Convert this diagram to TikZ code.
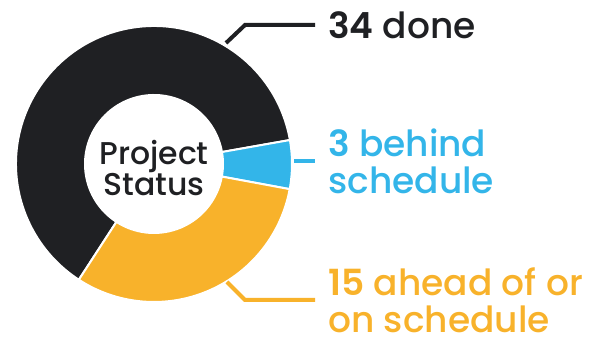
\documentclass[tikz,border=0pt]{standalone}
\usepackage{fontspec}
\setmainfont{Poppins}[UprightFont=* Medium, BoldFont=* SemiBold]
\usetikzlibrary{positioning, calc}
\definecolor{donecol}{HTML}{1F2023}
\definecolor{behindcol}{HTML}{33B5E9}
\definecolor{aheadcol}{HTML}{F8B22B}
\tikzset{
x=1pt, y=1pt, % one unit is one pixel of the layout
slice/.style={draw=white, line width=2pt, line join=round}, % ring pieces with white gaps
leader/.style={line width=4pt}, % the lines out to the labels
lbl/.style={inner sep=0pt, align=left, font=\fontsize{36}{37}\selectfont}, % the label text
}
% colour, start angle, end angle
\newcommand{\ringpiece}[3]{%
  \filldraw[slice, fill=#1] (154,175) ++(#2:138) arc[start angle=#2, end angle=#3, radius=138]
    -- ($(154,175)+(#3:69)$) arc[start angle=#3, end angle=#2, radius=69] -- cycle;
}

\begin{document}
\begin{tikzpicture}
            \useasboundingbox (0,0) rectangle (597,339);
            \ringpiece{donecol}{10}{237}
            \ringpiece{behindcol}{-10.5}{10}
            \ringpiece{aheadcol}{-123}{-10.5}
            \node[font=\fontsize{31.5}{31}\selectfont, align=center, text=donecol] (status) at (154,171) {Project\\Status};
            \coordinate (donetip) at (226,296);
            \coordinate (doneknee) at (245,314);
            \coordinate (behindtip) at (294,178);
            \coordinate (aheadtip) at (227,57);
            \coordinate (aheadknee) at (245,39);
            \node[lbl, text=donecol, right=83pt of doneknee] (done) {\textbf{34} done};
            \node[lbl, text=behindcol, right=34pt of behindtip] (behind) {\textbf{3} behind\\schedule};
            \node[lbl, text=aheadcol, right=83pt of aheadknee] (ahead) {\textbf{15} ahead of or\\on schedule};
            \draw[leader, donecol] (donetip) -- (doneknee) -- ([xshift=-13pt]done.west);
            \draw[leader, behindcol] (behindtip) -- ([xshift=-13pt]behind.west);
            \draw[leader, aheadcol] (aheadtip) -- (aheadknee) -- ([xshift=-13pt]ahead.west);
        \end{tikzpicture}
\end{document}
